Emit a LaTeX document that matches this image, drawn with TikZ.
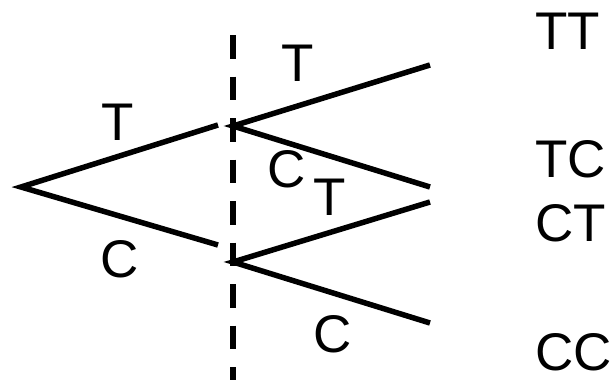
\documentclass[tikz,border=0pt]{standalone}
\usepackage{fontspec}
\setmainfont{Liberation Sans}
\begin{document}
\begin{tikzpicture}[x=1pt,y=-1pt,
  branch/.style={line width=5.5pt},
  lbl/.style={inner sep=0pt, font=\fontsize{53}{60}\selectfont}]
  \useasboundingbox (0,0) rectangle (613,380);
  % garis pemisah
  \coordinate (sepTop) at (233,35);
  \coordinate (sepBot) at (233,380);
  \draw[line width=5.5pt, dash pattern=on 23.5pt off 18pt] (sepTop) -- (sepBot);
  % lemparan pertama
  \coordinate (root) at (21,187);
  \coordinate (endT) at (218,125);
  \coordinate (endC) at (218,245);
  \draw[branch, line join=miter] (endT) -- (root) -- (endC);
  \node[lbl] (labT) at (118,122) {T};
  \node[lbl] (labC) at (120,259) {C};
  % lemparan kedua
  \coordinate (jT) at (233,126);
  \coordinate (jC) at (233,262);
  \coordinate (leafTT) at (430,65);
  \coordinate (leafTC) at (430,187);
  \coordinate (leafCT) at (430,202);
  \coordinate (leafCC) at (430,323);
  \draw[branch] (leafTT) -- (jT) -- (leafTC);
  \draw[branch] (leafCT) -- (jC) -- (leafCC);
  \node[lbl] (labTT) at (298,63) {T};
  \node[lbl] (labTC) at (287,169) {C};
  \node[lbl] (labCT) at (330,197) {T};
  \node[lbl] (labCC) at (333,334) {C};
  % hasil
  \node[lbl, anchor=west] (outTT) at (535,31) {TT};
  \node[lbl, anchor=west] (outTC) at (535,159) {TC};
  \node[lbl, anchor=west] (outCT) at (535,223) {CT};
  \node[lbl, anchor=west] (outCC) at (535,352) {CC};
\end{tikzpicture}
\end{document}
